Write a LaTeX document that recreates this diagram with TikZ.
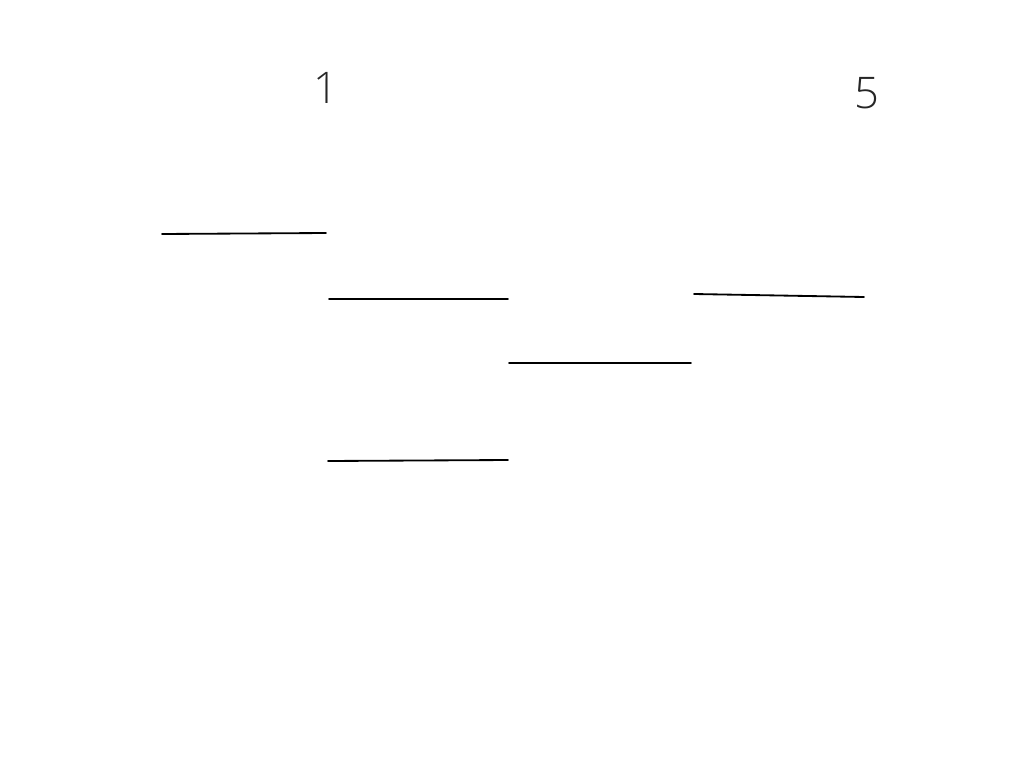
\documentclass[tikz,border=0pt]{standalone}
\usepackage{fontspec}
\IfFontExistsTF{Open Sans Light}{\setmainfont{Open Sans Light}}{\setmainfont{Open Sans}}
\usetikzlibrary{positioning}
\tikzstyle{level}=[draw,line width=1.3pt,line cap=round]
\tikzstyle{tag}=[inner sep=0pt,font=\fontsize{31}{36}\selectfont,text=black!85]

\begin{document}
\begin{tikzpicture}[x=0.025cm,y=-0.025cm]
\useasboundingbox (0,0) rectangle (1024,768);
\node [tag] (one) at (326,88) {1};
\node [tag] (five) at (867,93) {5};
\coordinate (a1) at (162,234);
\coordinate (a2) at (326,233);
\coordinate (b1) at (329,299);
\coordinate (b2) at (508,299);
\coordinate (c1) at (509,363);
\coordinate (c2) at (691,363);
\coordinate (d1) at (694,294);
\coordinate (d2) at (864,297);
\coordinate (e1) at (328,461);
\coordinate (e2) at (508,460);
\draw [level] (a1) -- (a2);
\draw [level] (b1) -- (b2);
\draw [level] (c1) -- (c2);
\draw [level] (d1) -- (d2);
\draw [level] (e1) -- (e2);
\end{tikzpicture}
\end{document}
